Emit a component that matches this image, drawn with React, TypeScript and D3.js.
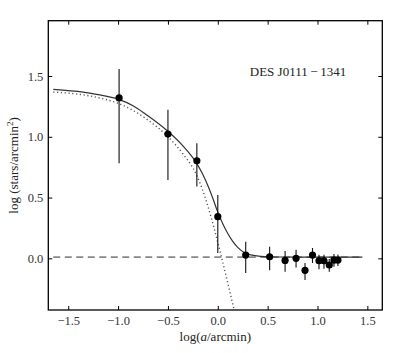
import React, { useEffect, useRef } from "react";
import { select, scaleLinear, axisBottom, axisTop, axisLeft, axisRight, line, curveMonotoneX, format } from "d3";

// binned star counts (log a, log density) with asymmetric errors
const logRadius = [-0.99, -0.5, -0.21, 0.0, 0.28, 0.52, 0.675, 0.785, 0.875, 0.95, 1.015, 1.065, 1.118, 1.165, 1.205];
const logDensity = [1.32, 1.022, 0.803, 0.343, 0.027, 0.013, -0.017, 0.0, -0.099, 0.027, -0.02, -0.02, -0.055, -0.014, -0.014];
const errUp = [0.238, 0.2, 0.144, 0.178, 0.11, 0.082, 0.077, 0.07, 0.06, 0.058, 0.05, 0.05, 0.05, 0.05, 0.045];
const errDown = [0.538, 0.378, 0.213, 0.3, 0.147, 0.11, 0.093, 0.075, 0.08, 0.065, 0.07, 0.065, 0.055, 0.055, 0.05];

// model curves: profile + background (solid), profile alone (dotted)
const fitX = [-1.65, -1.35, -1.2, -1.0, -0.85, -0.73, -0.5, -0.35, -0.215, -0.15, -0.1, -0.05, 0.0, 0.05, 0.1, 0.15, 0.2, 0.26, 0.33, 0.43, 0.6, 1.0, 1.45];
const fitY = [1.39, 1.367, 1.347, 1.31, 1.255, 1.19, 1.045, 0.925, 0.785, 0.69, 0.6, 0.495, 0.38, 0.285, 0.205, 0.14, 0.09, 0.05, 0.028, 0.016, 0.011, 0.01, 0.01];
const profX = [-1.65, -1.35, -1.2, -1.0, -0.73, -0.5, -0.35, -0.215, -0.16, -0.1, 0.04, 0.165];
const profY = [1.368, 1.345, 1.322, 1.275, 1.155, 1.0, 0.86, 0.69, 0.58, 0.43, 0.0, -0.43];
const background = 0.01;
const bgRange = [-1.65, 1.45];

const xTicks = [-1.5, -1.0, -0.5, 0.0, 0.5, 1.0, 1.5];
const yTicks = [0.0, 0.5, 1.0, 1.5];

const W = 398, H = 353;
const L = 48.3, R = 382.3, T = 20.7, B = 310;
const font = "Liberation Serif, Times New Roman, DejaVu Serif, serif";

export default function App() {
  const svgRef = useRef<SVGSVGElement>(null);

  useEffect(() => {
    const svg = select(svgRef.current);
    svg.selectAll("*").remove();

    const x = scaleLinear().domain([-1.7, 1.65]).range([L, R]);
    const y = scaleLinear().domain([-0.425, 1.955]).range([B, T]);
    const fmt = format(".1f");

    svg.append("defs").append("clipPath").attr("id", "plotclip")
      .append("rect").attr("x", L).attr("y", T).attr("width", R - L).attr("height", B - T);

    const plot = svg.append("g").attr("clip-path", "url(#plotclip)");

    // background level
    plot.append("line")
      .attr("x1", x(bgRange[0])).attr("x2", x(bgRange[1]))
      .attr("y1", y(background)).attr("y2", y(background))
      .attr("stroke", "#888").attr("stroke-width", 1.6)
      .attr("stroke-dasharray", "7,4.5");

    const pts = (xs: number[], ys: number[]) => xs.map((v, i) => [v, ys[i]] as [number, number]);
    const path = line<[number, number]>().x(d => x(d[0])).y(d => y(d[1])).curve(curveMonotoneX);

    plot.append("path").attr("d", path(pts(profX, profY)))
      .attr("fill", "none").attr("stroke", "#555").attr("stroke-width", 1.4)
      .attr("stroke-dasharray", "1.2,2.6");

    plot.append("path").attr("d", path(pts(fitX, fitY)))
      .attr("fill", "none").attr("stroke", "#333").attr("stroke-width", 1.2);

    // error bars + points
    plot.selectAll(".err").data(logRadius).join("line").attr("class", "err")
      .attr("x1", d => x(d)).attr("x2", d => x(d))
      .attr("y1", (d, i) => y(logDensity[i] + errUp[i]))
      .attr("y2", (d, i) => y(logDensity[i] - errDown[i]))
      .attr("stroke", "#111").attr("stroke-width", 1.1);

    plot.selectAll(".pt").data(logRadius).join("circle").attr("class", "pt")
      .attr("cx", d => x(d)).attr("cy", (d, i) => y(logDensity[i]))
      .attr("r", 3.6).attr("fill", "#000");

    // axes, inward ticks on all four sides
    const styleAxis = (g: any) => {
      g.select(".domain").remove();
      g.selectAll(".tick line").attr("stroke", "#000").attr("stroke-width", 1);
      g.selectAll("text").attr("font-family", font).attr("font-size", 12.5).attr("fill", "#333");
    };
    svg.append("g").attr("transform", `translate(0,${B})`)
      .call(axisBottom(x).tickValues(xTicks).tickFormat(fmt as any).tickSize(-4).tickPadding(6)).call(styleAxis);
    svg.append("g").attr("transform", `translate(0,${T})`)
      .call(axisTop(x).tickValues(xTicks).tickFormat(() => "").tickSize(-4)).call(styleAxis);
    svg.append("g").attr("transform", `translate(${L},0)`)
      .call(axisLeft(y).tickValues(yTicks).tickFormat(fmt as any).tickSize(-4).tickPadding(5)).call(styleAxis);
    svg.append("g").attr("transform", `translate(${R},0)`)
      .call(axisRight(y).tickValues(yTicks).tickFormat(() => "").tickSize(-4)).call(styleAxis);

    svg.append("rect").attr("x", L).attr("y", T).attr("width", R - L).attr("height", B - T)
      .attr("fill", "none").attr("stroke", "#000").attr("stroke-width", 1.3);

    // labels
    const xl = svg.append("text").attr("x", (L + R) / 2).attr("y", 341)
      .attr("text-anchor", "middle").attr("font-family", font).attr("font-size", 13).attr("fill", "#222");
    xl.append("tspan").text("log(");
    xl.append("tspan").attr("font-style", "italic").text("a");
    xl.append("tspan").text("/arcmin)");

    const yl = svg.append("text").attr("transform", `translate(18,${(T + B) / 2}) rotate(-90)`)
      .attr("text-anchor", "middle").attr("font-family", font).attr("font-size", 13).attr("fill", "#222");
    yl.append("tspan").text("log (stars/arcmin");
    yl.append("tspan").attr("dy", -5).attr("font-size", 9).text("2");
    yl.append("tspan").attr("dy", 5).text(")");

    svg.append("text").attr("x", 298).attr("y", 75.5).attr("text-anchor", "middle")
      .attr("font-family", font).attr("font-size", 13).attr("fill", "#222")
      .text("DES J0111\u2009\u2212\u20091341");
  }, []);

  return (
    <svg
      ref={svgRef}
      width={W}
      height={H}
      style={{ position: "absolute", left: 0, top: 0, background: "#fff" }}
    />
  );
}
